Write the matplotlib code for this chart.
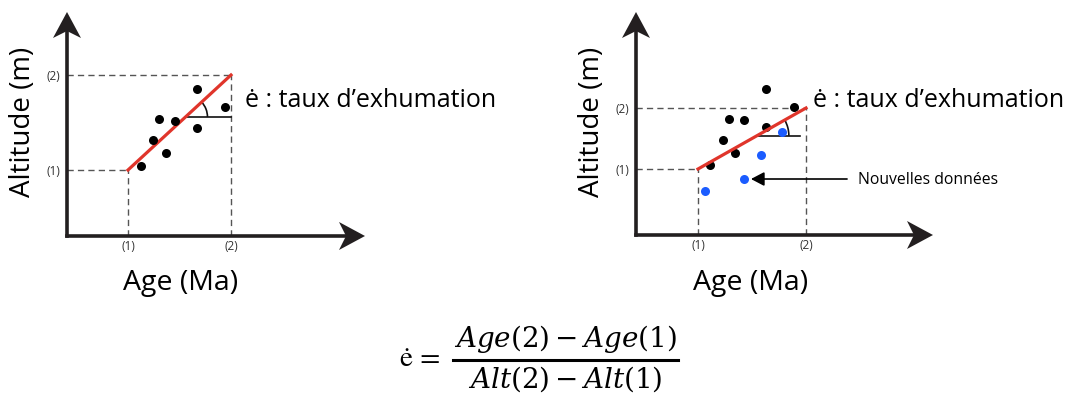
import matplotlib
matplotlib.use("Agg")
import matplotlib.pyplot as plt
from matplotlib.patches import Polygon, Arc
from matplotlib.transforms import Affine2D, ScaledTranslation

plt.rcParams['font.family'] = ['Open Sans', 'DejaVu Sans']
plt.rcParams['mathtext.fontset'] = 'dejavuserif'

# ---------------- data ----------------
tick_pos = [1, 2]
tick_labels = ['(1)', '(2)']
x_label = 'Age (Ma)'
y_label = 'Altitude (m)'
rate_label = 'ė : taux d’exhumation'
new_label = 'Nouvelles données'

# left panel: original data
age_left = [1.126, 1.243, 1.301, 1.369, 1.456, 1.670, 1.670, 1.942]
alt_left = [1.042, 1.316, 1.537, 1.179, 1.516, 1.853, 1.442, 1.663]
fit_left_age = [1, 2]
fit_left_alt = [1, 2]
angle_left = (1.558, 1.558, 2.0)   # x0, y, x1 of the horizontal reference

# right panel: original + new data
age_right_old = [1.111, 1.231, 1.287, 1.343, 1.426, 1.630, 1.630, 1.889]
alt_right_old = [1.066, 1.475, 1.820, 1.262, 1.803, 2.311, 1.689, 2.016]
age_right_new = [1.065, 1.426, 1.583, 1.778]
alt_right_new = [0.639, 0.836, 1.230, 1.607]
fit_right_age = [1, 2]
fit_right_alt = [1, 2]
angle_right = (1.545, 1.545, 1.944)
new_arrow_from = (2.380, 0.836)
new_arrow_to = (1.426, 0.836)

# ---------------- style ----------------
W, H = 1071, 393
AX_COL = '#231f20'
RED = '#e0352b'
BLUE = '#1b5cff'
DASH_COL = '#555555'

fig = plt.figure(figsize=(W / 100, H / 100), dpi=100)


def arrowhead(ax, at, rot):
    verts = [(0, 0), (-26, -14), (-19, 0), (-26, 14)]
    tr = Affine2D().rotate_deg(rot) + ScaledTranslation(at[0], at[1], ax.transAxes)
    ax.add_patch(Polygon(verts, closed=True, transform=tr, facecolor=AX_COL,
                         edgecolor='none', clip_on=False, zorder=6))


def make_panel(ox, oy, tipx, tipy, x1, x2, y1, y2):
    ax = fig.add_axes([ox / W, 1 - oy / H, (tipx - ox) / W, (oy - tipy) / H])
    sx = x2 - x1
    sy = y1 - y2
    ax.set_xlim(1 + (ox - x1) / sx, 1 + (tipx - x1) / sx)
    ax.set_ylim(1 - (oy - y1) / sy, 1 + (y1 - tipy) / sy)
    for s in ax.spines.values():
        s.set_visible(False)
    ax.patch.set_alpha(0)
    ax.set_xticks(tick_pos, tick_labels)
    ax.set_yticks(tick_pos, tick_labels)
    ax.tick_params(length=0, labelsize=8.5, colors='#333333')
    ax.tick_params(axis='x', pad=3)
    ax.tick_params(axis='y', pad=5)
    # axis shafts
    ax.plot([0, 0.97], [0, 0], transform=ax.transAxes, color=AX_COL, lw=2.6,
            solid_capstyle='projecting', clip_on=False, zorder=5)
    ax.plot([0, 0], [0, 0.97], transform=ax.transAxes, color=AX_COL, lw=2.6,
            solid_capstyle='projecting', clip_on=False, zorder=5)
    arrowhead(ax, (1, 0), 0)
    arrowhead(ax, (0, 1), 90)
    # dashed guides
    x0, xl = ax.get_xlim()[0], ax.get_ylim()[0]
    for t in tick_pos:
        ax.plot([x0, t], [t, t], ls=(0, (4.5, 3)), color=DASH_COL, lw=1.0, zorder=1)
        ax.plot([t, t], [xl, t], ls=(0, (4.5, 3)), color=DASH_COL, lw=1.0, zorder=1)
    return ax, sx, sy


def angle_mark(ax, spec, sx, sy, r):
    x0, y0, x1 = spec
    ax.plot([x0, x1], [y0, y0], color='#111111', lw=1.2, zorder=3)
    ax.add_patch(Arc((x0, y0), 2 * r / sx, 2 * r / sy, theta1=0, theta2=45,
                     color='#111111', lw=1.2, zorder=3))


# left panel
axL, sxL, syL = make_panel(67, 236, 365, 12, 128, 231, 170, 75)
axL.plot(fit_left_age, fit_left_alt, color=RED, lw=2.3, zorder=4)
axL.plot(age_left, alt_left, 'o', color='black', ms=6.5, mec='none', zorder=4)
angle_mark(axL, angle_left, sxL, syL, 22)

# right panel
axR, sxR, syR = make_panel(636, 235, 933, 12, 698, 806, 169, 108)
axR.plot(age_right_old, alt_right_old, 'o', color='black', ms=6.5, mec='none', zorder=3)
axR.plot(fit_right_age, fit_right_alt, color=RED, lw=2.3, zorder=4)
axR.plot(age_right_new, alt_right_new, 'o', color=BLUE, ms=6.5, mec='none', zorder=5)
angle_mark(axR, angle_right, sxR, syR, 32)
axR.annotate('', xy=new_arrow_to, xytext=new_arrow_from,
             arrowprops=dict(arrowstyle='-|>,head_length=0.8,head_width=0.42',
                             color='black', lw=1.2, shrinkA=0, shrinkB=5))


def ftext(px, py, s, **kw):
    fig.text(px / W, 1 - py / H, s, **kw)


for cx in (23, 592):
    ftext(cx, 122, y_label, rotation=90, ha='center', va='center', fontsize=20, color='black')
ftext(181, 290, x_label, ha='center', va='baseline', fontsize=20.5, color='black')
ftext(751, 290, x_label, ha='center', va='baseline', fontsize=20.5, color='black')
ftext(245, 107, rate_label, ha='left', va='baseline', fontsize=18, color='black')
ftext(813, 107, rate_label, ha='left', va='baseline', fontsize=18, color='black')
ftext(858, 184, new_label, ha='left', va='baseline', fontsize=11.3, color='black')

# formula
ftext(400, 366, 'ė =', ha='left', va='baseline', fontsize=21, family='STIXGeneral')
ftext(565, 347, r'$Age(2) - Age(1)$', ha='center', va='baseline', fontsize=20)
ftext(565, 388, r'$Alt(2) - Alt(1)$', ha='center', va='baseline', fontsize=20)
fig.add_artist(plt.Line2D([453 / W, 678 / W], [1 - 360 / H, 1 - 360 / H],
                          transform=fig.transFigure, color='black', lw=2.2))

fig.savefig('out.png', dpi=100)
